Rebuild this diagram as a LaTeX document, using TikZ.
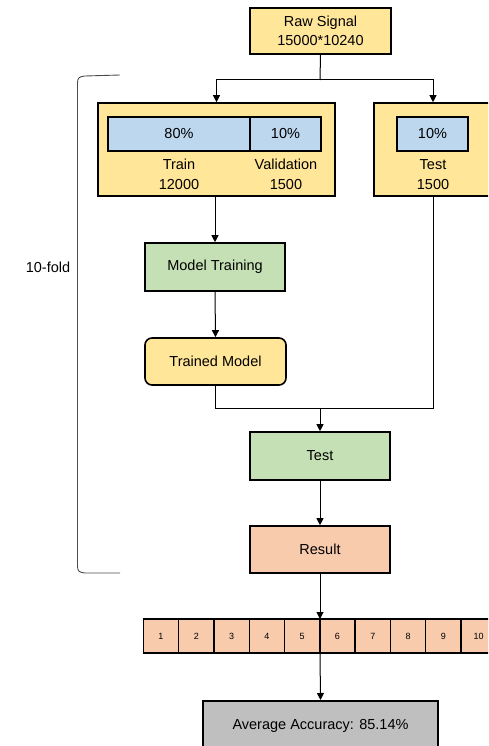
\documentclass[tikz,border=0pt]{standalone}
\usepackage{fontspec}
\setmainfont{Liberation Sans}
\usetikzlibrary{arrows.meta}
\definecolor{cyellow}{HTML}{FFE699}
\definecolor{cblue}{HTML}{BDD7EE}
\definecolor{cgreen}{HTML}{C5E0B4}
\definecolor{csalmon}{HTML}{F8CBAD}
\definecolor{cgray}{HTML}{BFBFBF}
\tikzset{
  box/.style={draw=black, line width=1.6pt, inner sep=0pt, font=\fontsize{14.5}{19.5}\selectfont, align=center},
  ybox/.style={box, fill=cyellow},
  gbox/.style={box, fill=cgreen},
  sbox/.style={box, fill=csalmon},
  bbar/.style={box, fill=cblue},
  cell/.style={draw=black, line width=1.4pt, fill=csalmon, minimum width=35.3pt, minimum height=34pt, inner sep=0pt, font=\fontsize{9}{11}\selectfont},
  lbl/.style={font=\fontsize{14.5}{19.5}\selectfont, align=center, inner sep=0pt},
  conn/.style={line width=1pt, draw=black},
  arr/.style={conn, -{Triangle[length=7pt,width=7pt]}},
}
\begin{document}
\begin{tikzpicture}[x=1pt,y=-1pt]
\useasboundingbox (0,0) rectangle (488,746);
\begin{scope}
\clip (0,0) rectangle (488,746);
% raw signal
\node[ybox, minimum width=141pt, minimum height=46pt] (raw) at (320.5,31) {Raw Signal\\15000*10240};
% train / validation split
\node[ybox, minimum width=237pt, minimum height=93pt] (tv) at (216.5,149.5) {};
\node[bbar, minimum width=142pt, minimum height=34pt] (p80) at (179,134) {80\%};
\node[bbar, minimum width=71pt, minimum height=34pt] (p10a) at (285.5,134) {10\%};
\node[lbl] (train) at (179,174.5) {Train\\12000};
\node[lbl] (val) at (286,174.5) {Validation\\1500};
% test split
\node[ybox, minimum width=120pt, minimum height=93pt] (ts) at (434,149.5) {};
\node[bbar, minimum width=71pt, minimum height=34pt] (p10b) at (432.5,134) {10\%};
\node[lbl] (tst) at (433,174.5) {Test\\1500};
% pipeline
\node[gbox, minimum width=140pt, minimum height=48pt] (mt) at (215,267) {Model Training};
\node[ybox, rounded corners=7pt, minimum width=141pt, minimum height=47pt] (tm) at (215.5,361.5) {Trained Model};
\node[gbox, minimum width=140pt, minimum height=48pt] (test) at (320,456) {Test};
\node[sbox, minimum width=140pt, minimum height=47pt] (res) at (320,549.5) {Result};
% folds
\foreach \i in {1,...,10} {
  \node[cell] (c\i) at ({143.3+35.3*(\i-0.5)},636) {\i};
}
\coordinate (stripT) at (320,619);
\coordinate (stripB) at (320,653);
\node[box, fill=cgray, minimum width=235pt, minimum height=56pt, anchor=north] (avg) at (320.5,700) {};
\node[lbl] (avgt) at (320.5,726) {Average Accuracy: 85.14\%};
% connectors
\coordinate (split) at (320,80);
\draw[conn] (raw.south) -- (split);
\draw[arr] (split) -| (tv.north);
\draw[arr] (split) -| ([xshift=-1pt]ts.north);
\draw[arr] (tv.south -| mt.north) -- (mt.north);
\draw[arr] (mt.south) -- (tm.north);
\coordinate (join) at (320,408);
\draw[conn] (tm.south) |- (join);
\draw[conn] ([xshift=-1pt]ts.south) |- (join);
\draw[arr] (join) -- (test.north);
\draw[arr] (test.south) -- (res.north);
\draw[arr] (res.south) -- (stripT);
\draw[arr] (stripB) -- (avg.north);
% fold bracket
\draw[line width=0.9pt, draw=black!70] (120,75) -- (85,76) .. controls (79,76.5) and (77.5,78) .. (77.5,83)
  -- (77.5,566) .. controls (77.5,571) and (79,572.5) .. (85,573) -- (120,573);
\node[lbl] (fold) at (48,267) {10-fold};
\end{scope}
\end{tikzpicture}
\end{document}
